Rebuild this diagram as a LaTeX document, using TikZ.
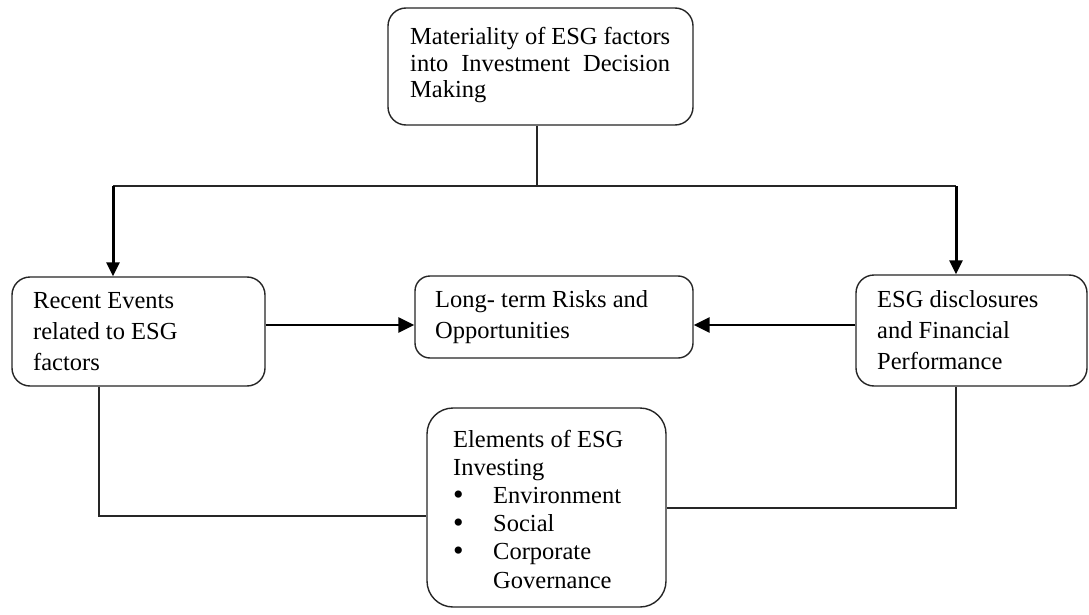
\documentclass[tikz,border=0pt]{standalone}
\usepackage{fontspec}
\setmainfont{Liberation Serif}
\usetikzlibrary{arrows.meta}
\newcommand{\txtbox}[3]{\parbox[t]{#1}{\fontsize{24.5}{#2}\selectfont\raggedright #3}}
\newcommand{\blt}{\makebox[40pt][l]{\raisebox{-1pt}{\fontsize{30}{30}\selectfont\textbullet}}}
\tikzset{
  box/.style={draw=black!85, line width=1.4pt, rounded corners=18pt, inner sep=0pt, fill=white},
  txt/.style={anchor=base west, inner sep=0pt, text=black},
  ln/.style={draw=black!85, line width=1.4pt},
  darr/.style={draw=black, line width=3pt, -{Triangle[length=14pt,width=13pt]}},
  harr/.style={draw=black, line width=2.6pt, -{Triangle[length=16pt,width=15pt]}}
}
\begin{document}
\begin{tikzpicture}[x=1pt,y=-1pt]
\useasboundingbox[fill=white] (0,0) rectangle (1089,615);
% boxes
\node[box, minimum width=305pt, minimum height=117pt] (top) at (540.5,66.5) {};
\node[box, minimum width=253pt, minimum height=109pt] (ev) at (138.5,331.5) {};
\node[box, rounded corners=15pt, minimum width=278pt, minimum height=82pt] (mid) at (554,317) {};
\node[box, minimum width=231pt, minimum height=111pt] (esg) at (971.5,330.5) {};
\node[box, rounded corners=26pt, minimum width=239pt, minimum height=199pt] (elem) at (546.5,507.5) {};
% texts
\node[txt] (topt) at (410,45) {\txtbox{270pt}{26.5pt}{\makebox[260pt][s]{Materiality of ESG factors}\\\makebox[260pt][s]{into Investment Decision}\\Making}};
\node[txt] (evt) at (33,308) {\txtbox{220pt}{31pt}{Recent Events\\related to ESG\\factors}};
\node[txt] (midt) at (435,307) {\txtbox{250pt}{31pt}{Long- term Risks and\\Opportunities}};
\node[txt] (esgt) at (877,307) {\txtbox{200pt}{31pt}{ESG disclosures\\and Financial\\Performance}};
\node[txt] (elemt) at (453,447) {\txtbox{210pt}{28.2pt}{Elements of ESG\\Investing\\\blt Environment\\\blt Social\\\blt Corporate\\\hspace*{40pt}Governance}};
% connectors
\coordinate (bus) at (537,186);
\coordinate (busL) at (113,186);
\coordinate (busR) at (956,186);
\coordinate (hy) at (0,325);
\coordinate (lc) at (99,516);
\coordinate (rc) at (956,508);
\draw[ln] (bus |- top.south) -- (bus);
\draw[ln] (busL) -- (busR);
\draw[darr] (busL) -- (busL |- ev.north);
\draw[darr] (busR) -- (busR |- esg.north);
\draw[harr] (ev.east |- hy) -- (mid.west |- hy);
\draw[harr] (esg.west |- hy) -- (mid.east |- hy);
\draw[ln] (lc |- ev.south) -- (lc) -- (elem.west |- lc);
\draw[ln] (rc |- esg.south) -- (rc) -- (elem.east |- rc);
\end{tikzpicture}
\end{document}
